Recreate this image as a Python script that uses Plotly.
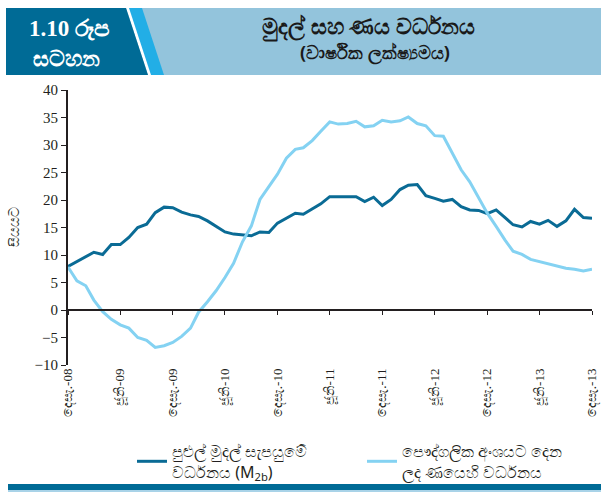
import plotly.graph_objects as go
import pandas as pd

# ---- data ----
months = pd.date_range("2008-12-01", periods=61, freq="MS")
m2b_growth = [7.9, 8.8, 9.6, 10.5, 10.1, 11.9, 11.9, 13.2, 15.0, 15.6, 17.7, 18.7, 18.6,
              17.8, 17.3, 17.0, 16.2, 15.2, 14.2, 13.8, 13.7, 13.5, 14.2, 14.1, 15.8,
              16.7, 17.6, 17.4, 18.3, 19.3, 20.6, 20.6, 20.6, 20.6, 19.7, 20.5, 19.0,
              20.1, 21.9, 22.7, 22.8, 20.8, 20.3, 19.8, 20.1, 18.8, 18.2, 18.1, 17.5,
              18.2, 16.8, 15.5, 15.1, 16.1, 15.6, 16.3, 15.2, 16.2, 18.3, 16.8, 16.7]
private_credit_growth = [7.8, 5.3, 4.4, 1.8, -0.3, -1.7, -2.7, -3.3, -5.0, -5.5, -6.8, -6.5, -5.9,
                         -4.8, -3.3, -0.4, 1.5, 3.5, 5.9, 8.5, 12.4, 15.3, 20.1, 22.5, 24.7,
                         27.6, 29.2, 29.5, 30.8, 32.5, 34.2, 33.8, 33.9, 34.3, 33.3, 33.5, 34.5,
                         34.2, 34.4, 35.1, 33.9, 33.5, 31.7, 31.6, 28.5, 25.5, 23.3, 20.5, 17.6,
                         15.2, 12.7, 10.7, 10.1, 9.2, 8.8, 8.4, 7.9, 7.6, 7.4, 7.1, 7.4]
tick_dates = months[::6]
tick_labels = ["දෙසැ.-08", "ජූනි-09", "දෙසැ.-09", "ජූනි-10", "දෙසැ.-10", "ජූනි-11",
               "දෙසැ.-11", "ජූනි-12", "දෙසැ.-12", "ජූනි-13", "දෙසැ.-13"]
series_names = ["පුළුල් මුදල් සැපයුමේ<br>වර්ධනය (M<sub>2b</sub>)",
                "පෞද්ගලික අංශයට දෙන<br>ලද ණයෙහි වර්ධනය"]
y_ticks = [-10, -5, 0, 5, 10, 15, 20, 25, 30, 35, 40]

W, H = 601, 494
L, R, T, B = 68, 592, 90, 365

def px(x):
    return (x - L) / (R - L)

def py(y):
    return (B - y) / (B - T)

DARK = "#0a6b95"
LIGHT = "#84d2f2"
TXT = "#231f20"
SANS = "Noto Sans, DejaVu Sans"
serif = "Liberation Serif"

fig = go.Figure()
fig.add_trace(go.Scatter(x=months, y=m2b_growth, mode="lines", name=series_names[0],
                         line=dict(color=DARK, width=3), legend="legend"))
fig.add_trace(go.Scatter(x=months, y=private_credit_growth, mode="lines", name=series_names[1],
                         line=dict(color=LIGHT, width=3), legend="legend2"))
# invisible trace on xaxis2 so that the zero-line axis with tick marks is drawn
fig.add_trace(go.Scatter(x=[months[0]], y=[0], xaxis="x2", mode="markers",
                         marker=dict(opacity=0), showlegend=False, hoverinfo="skip"))

legend_common = dict(orientation="h", xanchor="left", yanchor="top",
                     font=dict(family=SANS, size=16, color=TXT),
                     itemwidth=30, bgcolor="rgba(0,0,0,0)")
fig.update_layout(
    width=W, height=H,
    margin=dict(l=L, r=W - R, t=T, b=H - B, autoexpand=False),
    paper_bgcolor="white", plot_bgcolor="white",
    showlegend=True,
    legend=dict(x=px(132), y=py(434), **legend_common),
    legend2=dict(x=px(362), y=py(434), **legend_common),
    xaxis=dict(range=[months[0], months[-1]], tickvals=list(tick_dates), ticktext=tick_labels,
               tickangle=-90, showgrid=False, showline=False, zeroline=False, ticks="",
               automargin=False,
               tickfont=dict(family=serif, size=13, color=TXT)),
    xaxis2=dict(range=[months[0], months[-1]], overlaying="x", anchor="free",
                position=py(310), tickvals=list(tick_dates), showticklabels=False,
                showline=True, linecolor=TXT, linewidth=2, ticks="outside", automargin=False,
                ticklen=4, tickwidth=1, tickcolor=TXT, showgrid=False, zeroline=False),
    yaxis=dict(range=[-10, 40], tickvals=y_ticks, showgrid=False, zeroline=False,
               showline=True, linecolor=TXT, linewidth=2, ticks="outside", automargin=False,
               ticklen=5, tickcolor=TXT,
               tickfont=dict(family=serif, size=15, color=TXT),
               title=dict(text="සියයට", font=dict(family=SANS, size=14, color=TXT), standoff=12)),
)

shapes = []
# header band
shapes.append(dict(type="rect", xref="paper", yref="paper", x0=px(6), x1=px(601),
                   y0=py(75), y1=py(8), fillcolor="#93c4dc", line=dict(width=0), layer="below"))
# cyan stripe
shapes.append(dict(type="path", xref="paper", yref="paper",
                   path=f"M {px(128)} {py(8)} L {px(142)} {py(8)} L {px(164)} {py(75)} L {px(150)} {py(75)} Z",
                   fillcolor="#22aee6", line=dict(width=0), layer="below"))
# white separator
shapes.append(dict(type="path", xref="paper", yref="paper",
                   path=f"M {px(126)} {py(8)} L {px(129)} {py(8)} L {px(151)} {py(75)} L {px(148)} {py(75)} Z",
                   fillcolor="white", line=dict(width=0), layer="below"))
# dark box
shapes.append(dict(type="path", xref="paper", yref="paper",
                   path=f"M {px(6)} {py(8)} L {px(126)} {py(8)} L {px(148)} {py(75)} L {px(6)} {py(75)} Z",
                   fillcolor="#006b96", line=dict(width=0), layer="below"))
# bottom bar
shapes.append(dict(type="rect", xref="paper", yref="paper", x0=px(8), x1=px(601),
                   y0=py(490), y1=py(484), fillcolor="#006b96", line=dict(width=0)))
shapes.append(dict(type="rect", xref="paper", yref="paper", x0=px(8), x1=px(601),
                   y0=py(492), y1=py(490), fillcolor="#a9d3e8", line=dict(width=0)))
fig.update_layout(shapes=shapes)

ann_common = dict(xref="paper", yref="paper", showarrow=False, xanchor="center", yanchor="middle")
annotations = [
    dict(text="<b>1.10 රූප</b>", x=px(69), y=py(29),
         font=dict(family="Liberation Serif, Noto Sans", size=23, color="white"), **ann_common),
    dict(text="<b>සටහන</b>", x=px(66), y=py(57),
         font=dict(family=SANS, size=22, color="white"), **ann_common),
    dict(text="<b>මුදල් සහ ණය වර්ධනය</b>", x=px(368), y=py(26),
         font=dict(family=SANS, size=22, color="#1a1a1a"), **ann_common),
    dict(text="<b>(වාර්ෂික ලක්ෂ්‍යමය)</b>", x=px(375), y=py(52),
         font=dict(family=SANS, size=18, color="#1a1a1a"), **ann_common),
]
fig.update_layout(annotations=annotations)

fig.write_html("out.html", post_script="document.body.style.margin='0';",
               config={"displayModeBar": False})
